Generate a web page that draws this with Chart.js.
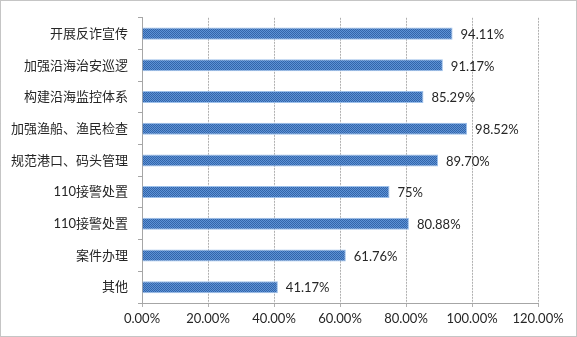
<!DOCTYPE html>
<html>
<head>
<meta charset="utf-8">
<script src="https://cdn.jsdelivr.net/npm/chart.js@4"></script>
<style>
  html, body { margin: 0; padding: 0; background: #fff; }
  #wrap { width: 577px; height: 337px; }
</style>
</head>
<body>
<div id="wrap"><canvas id="grafico"></canvas></div>
<script>
const CATEGORIAS = ['开展反诈宣传', '加强沿海治安巡逻', '构建沿海监控体系', '加强渔船、渔民检查', '规范港口、码头管理', '110接警处置', '110接警处置', '案件办理', '其他'];
const VALORES = [94.11, 91.17, 85.29, 98.52, 89.70, 75, 80.88, 61.76, 41.17];
const ROTULOS = ['94.11%', '91.17%', '85.29%', '98.52%', '89.70%', '75%', '80.88%', '61.76%', '41.17%'];
const EIXO_MAX = 120;
const EIXO_PASSO = 20;

const FONTE = "Lato, 'Noto Sans CJK SC', sans-serif";

// padrao xadrez azul, parecido com o preenchimento do Excel
function padraoAzul(ctx) {
  const c = document.createElement('canvas');
  c.width = 2; c.height = 2;
  const p = c.getContext('2d');
  p.fillStyle = '#5c92d6'; p.fillRect(0, 0, 2, 2);
  p.fillStyle = '#3465a9'; p.fillRect(0, 0, 1, 1); p.fillRect(1, 1, 1, 1);
  return ctx.createPattern(c, 'repeat');
}

const moldura = {
  id: 'moldura',
  beforeDraw(chart) {
    const ctx = chart.ctx;
    ctx.save();
    ctx.fillStyle = '#fff';
    ctx.fillRect(0, 0, chart.width, chart.height);
    ctx.strokeStyle = '#8a8a8a';
    ctx.setLineDash([1, 1]);
    ctx.lineWidth = 1;
    ctx.strokeRect(0.5, 0.5, chart.width - 1, chart.height - 1);
    ctx.restore();
  }
};

const rotulosValor = {
  id: 'rotulosValor',
  afterDatasetsDraw(chart) {
    const ctx = chart.ctx;
    const meta = chart.getDatasetMeta(0);
    ctx.save();
    ctx.font = '13px ' + FONTE;
    ctx.fillStyle = '#262626';
    ctx.textBaseline = 'middle';
    ctx.textAlign = 'left';
    meta.data.forEach((bar, i) => {
      ctx.fillText(ROTULOS[i], bar.x + 8, bar.y + 1);
    });
    ctx.restore();
  }
};

const canvas = document.getElementById('grafico');

new Chart(canvas, {
  type: 'bar',
  data: {
    labels: CATEGORIAS,
    datasets: [{
      data: VALORES,
      backgroundColor: padraoAzul(canvas.getContext('2d')),
      borderColor: '#9dc0ea',
      borderWidth: { top: 1, bottom: 1, left: 0, right: 1 },
      borderSkipped: false,
      barPercentage: 0.38,
      categoryPercentage: 1
    }]
  },
  options: {
    indexAxis: 'y',
    responsive: true,
    maintainAspectRatio: false,
    animation: false,
    events: [],
    layout: { padding: { left: 0, right: 39, top: 14, bottom: 0 } },
    plugins: {
      legend: { display: false },
      tooltip: { enabled: false }
    },
    scales: {
      x: {
        min: 0,
        max: EIXO_MAX,
        ticks: {
          stepSize: EIXO_PASSO,
          color: '#262626',
          font: { family: FONTE, size: 13 },
          padding: 4,
          maxRotation: 0,
          callback: v => v.toFixed(2) + '%'
        },
        grid: { color: '#b0b0b0', tickLength: 4, lineWidth: 1 },
        border: { color: '#a6a6a6', dash: [2, 1] },
        afterFit(scale) { scale.height = 34; }
      },
      y: {
        ticks: {
          color: '#262626',
          font: { family: FONTE, size: 13 },
          padding: 10
        },
        grid: { drawOnChartArea: false, color: '#a6a6a6', tickLength: 4 },
        border: { color: '#a6a6a6', dash: [2, 1] },
        afterFit(scale) { scale.width = 142; }
      }
    }
  },
  plugins: [moldura, rotulosValor]
});
</script>
</body>
</html>
